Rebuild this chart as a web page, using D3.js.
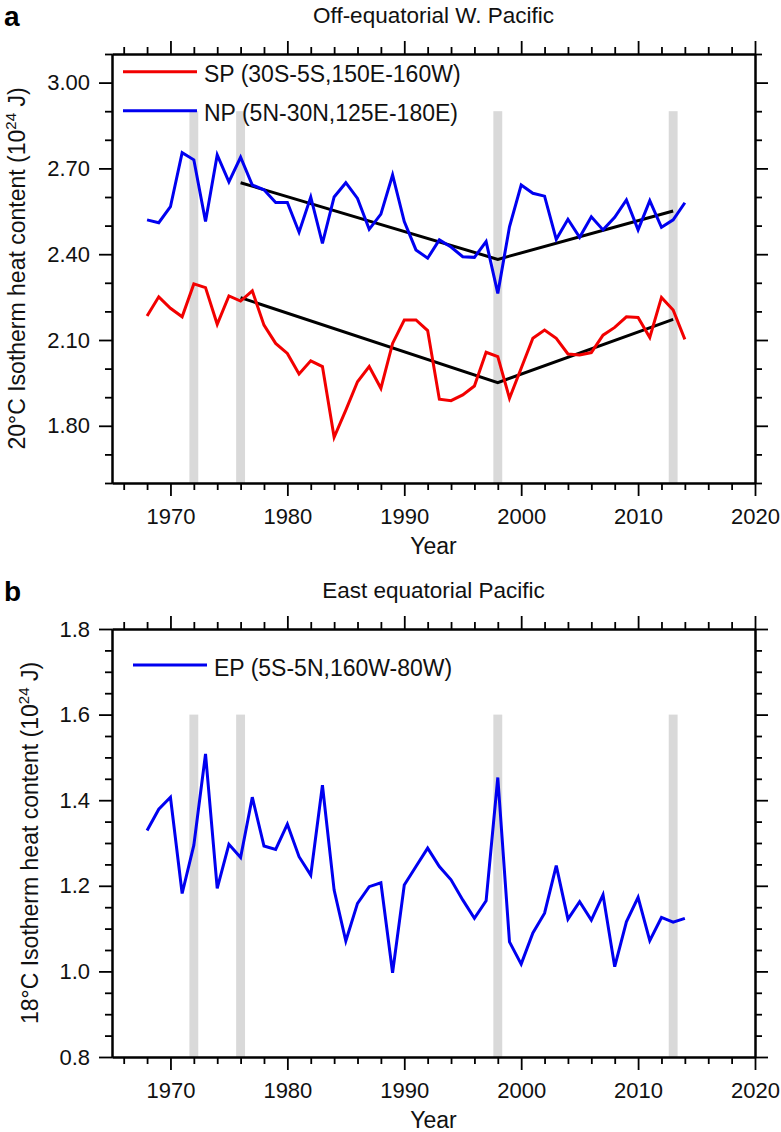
<!DOCTYPE html>
<html>
<head>
<meta charset="utf-8">
<script src="https://cdn.jsdelivr.net/npm/d3@7"></script>
<style>
  body { margin: 0; background: #fff; }
  svg { display: block; font-family: "Liberation Sans", Arial, Helvetica, sans-serif; }
</style>
</head>
<body>
<svg id="chart" width="781" height="1132"></svg>
<script>
// ---------------- DATA ----------------
const years = [1968,1969,1970,1971,1972,1973,1974,1975,1976,1977,
               1978,1979,1980,1981,1982,1983,1984,1985,1986,1987,
               1988,1989,1990,1991,1992,1993,1994,1995,1996,1997,
               1998,1999,2000,2001,2002,2003,2004,2005,2006,2007,
               2008,2009,2010,2011,2012,2013,2014];

const spValues = [2.184,2.251,2.211,2.181,2.296,2.283,2.155,2.254,2.236,2.272,
                  2.152,2.088,2.053,1.981,2.027,2.007,1.760,1.855,1.954,2.007,
                  1.931,2.088,2.170,2.170,2.133,1.893,1.888,1.908,1.939,2.057,
                  2.042,1.896,2.001,2.106,2.135,2.106,2.051,2.048,2.056,2.117,
                  2.144,2.181,2.179,2.109,2.249,2.205,2.102];

const npValues = [2.520,2.510,2.566,2.755,2.730,2.514,2.747,2.653,2.739,2.642,
                  2.625,2.581,2.581,2.477,2.600,2.438,2.600,2.650,2.595,2.487,
                  2.540,2.677,2.514,2.415,2.386,2.450,2.425,2.391,2.389,2.444,
                  2.263,2.496,2.642,2.613,2.603,2.452,2.522,2.459,2.531,2.485,
                  2.529,2.590,2.485,2.587,2.494,2.520,2.580];

const epValues = [1.329,1.379,1.407,1.182,1.295,1.508,1.194,1.297,1.266,1.407,
                  1.293,1.285,1.344,1.268,1.225,1.435,1.190,1.071,1.159,1.198,
                  1.207,0.997,1.202,1.245,1.288,1.245,1.214,1.167,1.124,1.165,
                  1.453,1.069,1.017,1.090,1.136,1.247,1.122,1.163,1.120,1.179,
                  1.011,1.116,1.173,1.072,1.126,1.115,1.124];

const trendYears = [1976, 1998, 2013];
const spTrend = [2.248, 1.951, 2.172];
const npTrend = [2.650, 2.382, 2.551];

const eventYears = [1972, 1976, 1998, 2013];

const xMajorTicks = [1970, 1980, 1990, 2000, 2010, 2020];
const xMinorTicks = [1966,1968,1972,1974,1976,1978,1982,1984,1986,1988,1992,1994,1996,1998,
                     2002,2004,2006,2008,2012,2014,2016,2018];
const yMajorTicksA = [1.80, 2.10, 2.40, 2.70, 3.00];
const yMinorTicksA = [1.60, 1.70, 1.90, 2.00, 2.20, 2.30, 2.50, 2.60, 2.80, 2.90, 3.10];
const yMajorTicksB = [0.8, 1.0, 1.2, 1.4, 1.6, 1.8];
const yMinorTicksB = [0.85,0.9,0.95,1.05,1.1,1.15,1.25,1.3,1.35,1.45,1.5,1.55,1.65,1.7,1.75];

const legendA = ["SP (30S-5S,150E-160W)", "NP (5N-30N,125E-180E)"];
const legendB = ["EP (5S-5N,160W-80W)"];

// ---------------- LAYOUT ----------------
const svg = d3.select("#chart");
const RED = "#f20000", BLUE = "#0000f0", GRAY = "#d9d9d9";
const left = 112, right = 755;
const x = d3.scaleLinear().domain([1965, 2020]).range([left, right]);

function panel(opts) {
  const y = d3.scaleLinear().domain(opts.yDomain).range([opts.bottom, opts.top]);
  const g = svg.append("g");

  // event bars
  g.selectAll("rect.ev").data(eventYears).enter().append("rect")
    .attr("x", d => x(d - 0.38)).attr("width", d => x(d + 0.38) - x(d - 0.38))
    .attr("y", y(opts.barTop)).attr("height", opts.bottom - y(opts.barTop))
    .attr("fill", GRAY);

  // axes
  const axStyle = sel => {
    sel.selectAll("path.domain").attr("stroke", "#000").attr("stroke-width", 2);
    sel.selectAll(".tick line").attr("stroke", "#000").attr("stroke-width", 1.8);
    sel.selectAll("text").attr("font-size", 22).attr("fill", "#111")
       .attr("font-family", '"Liberation Sans", Arial, sans-serif');
  };
  const noLab = () => "";
  // bottom
  g.append("g").attr("transform", `translate(0,${opts.bottom})`)
    .call(d3.axisBottom(x).tickValues(xMinorTicks).tickSize(7).tickSizeOuter(0).tickFormat(noLab)).call(axStyle);
  g.append("g").attr("transform", `translate(0,${opts.bottom})`)
    .call(d3.axisBottom(x).tickValues(xMajorTicks).tickSize(13).tickSizeOuter(0).tickPadding(12).tickFormat(d3.format("d"))).call(axStyle);
  // top
  g.append("g").attr("transform", `translate(0,${opts.top})`)
    .call(d3.axisTop(x).tickValues(xMinorTicks).tickSize(7).tickSizeOuter(0).tickFormat(noLab)).call(axStyle);
  g.append("g").attr("transform", `translate(0,${opts.top})`)
    .call(d3.axisTop(x).tickValues(xMajorTicks).tickSize(13).tickSizeOuter(0).tickFormat(noLab)).call(axStyle);
  // left
  g.append("g").attr("transform", `translate(${left},0)`)
    .call(d3.axisLeft(y).tickValues(opts.yMinor).tickSize(7).tickSizeOuter(0).tickFormat(noLab)).call(axStyle);
  g.append("g").attr("transform", `translate(${left},0)`)
    .call(d3.axisLeft(y).tickValues(opts.yMajor).tickSize(13).tickSizeOuter(0).tickPadding(9).tickFormat(d3.format(opts.yFmt))).call(axStyle);
  // right
  g.append("g").attr("transform", `translate(${right},0)`)
    .call(d3.axisRight(y).tickValues(opts.yMinor).tickSize(7).tickSizeOuter(0).tickFormat(noLab)).call(axStyle);
  g.append("g").attr("transform", `translate(${right},0)`)
    .call(d3.axisRight(y).tickValues(opts.yMajor).tickSize(13).tickSizeOuter(0).tickFormat(noLab)).call(axStyle);

  // series
  const line = d3.line().x(d => x(d[0])).y(d => y(d[1]));
  opts.trends.forEach(t => {
    g.append("path").datum(trendYears.map((yr, i) => [yr, t[i]]))
      .attr("d", line).attr("fill", "none").attr("stroke", "#000").attr("stroke-width", 3);
  });
  opts.series.forEach(s => {
    g.append("path").datum(years.map((yr, i) => [yr, s.values[i]]))
      .attr("d", line).attr("fill", "none").attr("stroke", s.color)
      .attr("stroke-width", 3).attr("stroke-linejoin", "miter").attr("stroke-miterlimit", 4);
  });

  // legend
  opts.series.forEach((s, i) => {
    const ly = opts.legendY[i];
    g.append("line").attr("x1", opts.legendX[0]).attr("x2", opts.legendX[1])
      .attr("y1", ly).attr("y2", ly).attr("stroke", s.color).attr("stroke-width", 3);
    g.append("text").attr("x", opts.legendX[1] + 7).attr("y", ly + 10.5)
      .attr("font-size", 23).attr("fill", "#111").text(s.label);
  });

  // title
  g.append("text").attr("x", (left + right) / 2).attr("y", opts.top - 31)
    .attr("text-anchor", "middle").attr("font-size", 22.5).attr("fill", "#111").text(opts.title);
  // panel letter
  g.append("text").attr("x", 4).attr("y", opts.letterY).attr("font-size", 28)
    .attr("font-weight", "bold").attr("fill", "#000").text(opts.letter);
  // x label
  g.append("text").attr("x", (left + right) / 2).attr("y", opts.bottom + 71)
    .attr("text-anchor", "middle").attr("font-size", 23).attr("fill", "#111").text("Year");
  // y label
  const cy = (opts.top + opts.bottom) / 2;
  const yl = g.append("text").attr("transform", `translate(${opts.ylabX},${cy}) rotate(-90)`)
    .attr("text-anchor", "middle").attr("font-size", 23).attr("fill", "#111");
  yl.append("tspan").text(opts.ylabel + " (10");
  yl.append("tspan").attr("font-size", 15).attr("dy", -9).text("24");
  yl.append("tspan").attr("dy", 9).text(" J)");
}

panel({
  top: 54, bottom: 483, yDomain: [1.60, 3.10], barTop: 2.90,
  yMajor: yMajorTicksA, yMinor: yMinorTicksA, yFmt: ".2f",
  series: [{values: spValues, color: RED, label: legendA[0]},
           {values: npValues, color: BLUE, label: legendA[1]}],
  trends: [spTrend, npTrend],
  legendX: [123, 197], legendY: [71.7, 110.7],
  title: "Off-equatorial W. Pacific", letter: "a", letterY: 26,
  ylabel: "20°C Isotherm heat content", ylabX: 25
});

panel({
  top: 629, bottom: 1057, yDomain: [0.8, 1.8], barTop: 1.6,
  yMajor: yMajorTicksB, yMinor: yMinorTicksB, yFmt: ".1f",
  series: [{values: epValues, color: BLUE, label: legendB[0]}],
  trends: [],
  legendX: [133, 207], legendY: [665],
  title: "East equatorial Pacific", letter: "b", letterY: 601,
  ylabel: "18°C Isotherm heat content", ylabX: 38
});
</script>
</body>
</html>
